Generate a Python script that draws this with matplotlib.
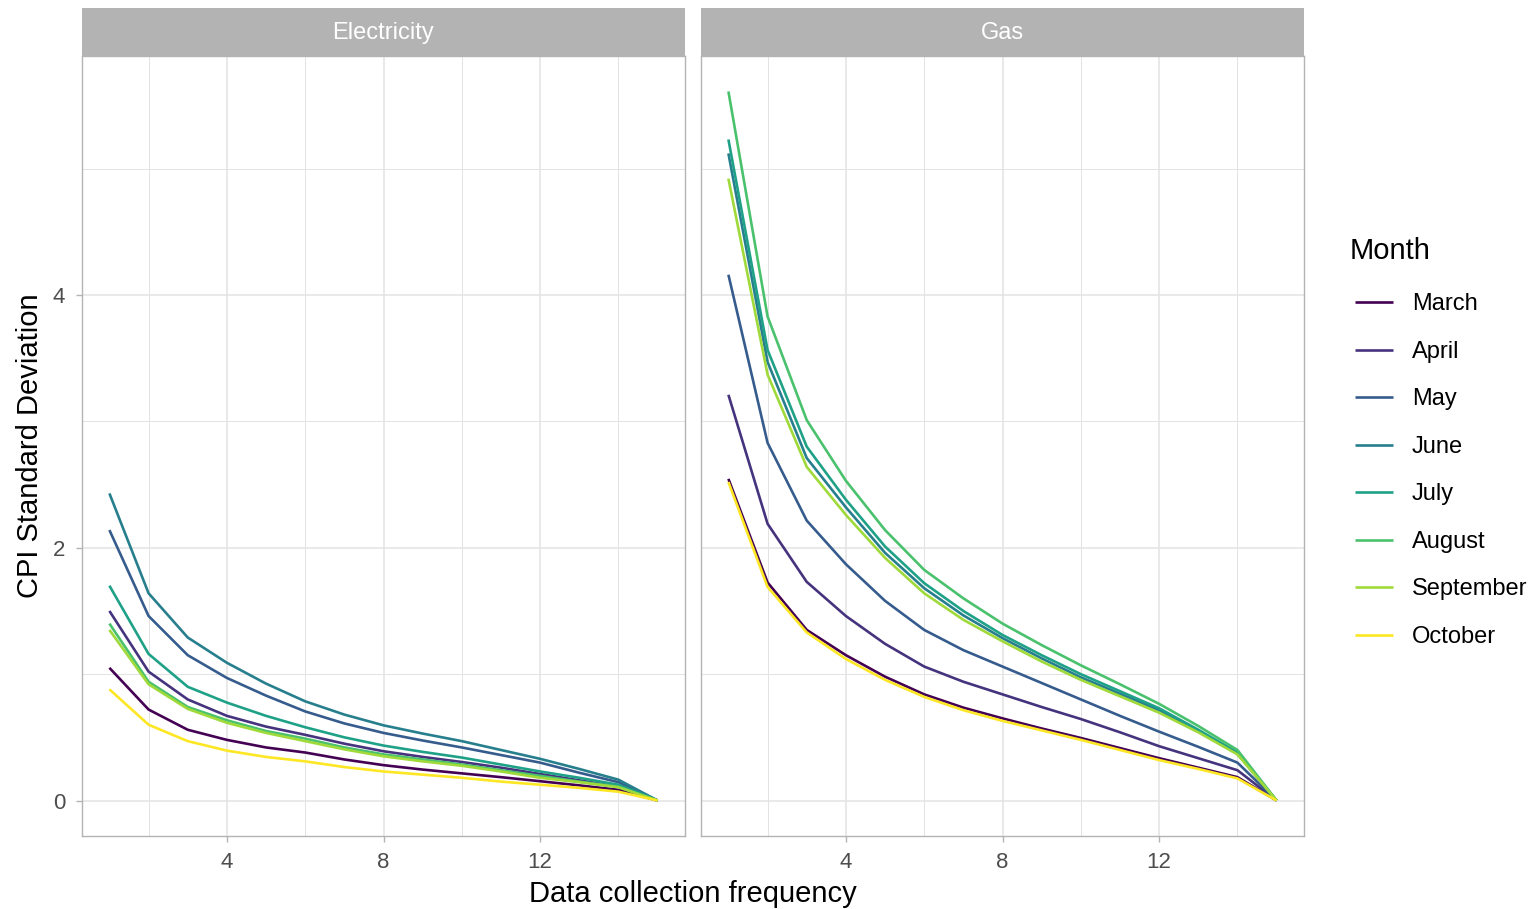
import matplotlib
matplotlib.use("Agg")
import matplotlib.pyplot as plt

plt.rcParams["font.family"] = ["Liberation Sans", "DejaVu Sans"]

# データ
freq = list(range(1, 16))
months = ["March", "April", "May", "June", "July", "August", "September", "October"]
colors = ["#440154", "#46337E", "#365C8D", "#277F8E", "#1FA187", "#4AC16D", "#9FDA3A", "#FDE725"]

elec_march = [1.05, 0.72, 0.56, 0.48, 0.42, 0.38, 0.325, 0.28, 0.245, 0.215, 0.185, 0.153, 0.12, 0.085, 0.0]
elec_april = [1.50, 1.02, 0.80, 0.67, 0.585, 0.52, 0.45, 0.39, 0.345, 0.305, 0.26, 0.21, 0.16, 0.11, 0.0]
elec_may = [2.14, 1.46, 1.15, 0.97, 0.83, 0.705, 0.61, 0.535, 0.475, 0.42, 0.36, 0.30, 0.22, 0.145, 0.0]
elec_june = [2.43, 1.64, 1.29, 1.09, 0.925, 0.785, 0.68, 0.595, 0.53, 0.47, 0.40, 0.33, 0.25, 0.165, 0.0]
elec_july = [1.70, 1.16, 0.90, 0.775, 0.67, 0.58, 0.50, 0.435, 0.385, 0.34, 0.285, 0.23, 0.18, 0.125, 0.0]
elec_august = [1.40, 0.94, 0.74, 0.635, 0.55, 0.49, 0.42, 0.365, 0.325, 0.285, 0.24, 0.195, 0.15, 0.11, 0.0]
elec_september = [1.35, 0.92, 0.725, 0.615, 0.535, 0.47, 0.405, 0.35, 0.31, 0.275, 0.23, 0.18, 0.145, 0.105, 0.0]
elec_october = [0.88, 0.60, 0.47, 0.395, 0.345, 0.31, 0.265, 0.23, 0.205, 0.18, 0.15, 0.125, 0.10, 0.07, 0.0]

gas_march = [2.545, 1.725, 1.35, 1.15, 0.98, 0.84, 0.735, 0.65, 0.57, 0.495, 0.415, 0.335, 0.26, 0.185, 0.0]
gas_april = [3.21, 2.19, 1.73, 1.46, 1.24, 1.06, 0.94, 0.84, 0.74, 0.645, 0.54, 0.43, 0.335, 0.24, 0.0]
gas_may = [4.16, 2.83, 2.215, 1.87, 1.58, 1.35, 1.19, 1.06, 0.93, 0.80, 0.67, 0.545, 0.425, 0.30, 0.0]
gas_june = [5.12, 3.47, 2.71, 2.32, 1.96, 1.68, 1.465, 1.285, 1.125, 0.975, 0.845, 0.715, 0.55, 0.37, 0.0]
gas_july = [5.23, 3.565, 2.80, 2.38, 2.01, 1.72, 1.50, 1.31, 1.15, 1.00, 0.865, 0.73, 0.56, 0.38, 0.0]
gas_august = [5.61, 3.83, 3.01, 2.53, 2.14, 1.825, 1.60, 1.40, 1.23, 1.07, 0.92, 0.765, 0.59, 0.40, 0.0]
gas_september = [4.92, 3.37, 2.64, 2.26, 1.92, 1.64, 1.43, 1.26, 1.10, 0.955, 0.825, 0.695, 0.54, 0.365, 0.0]
gas_october = [2.52, 1.69, 1.33, 1.12, 0.955, 0.82, 0.715, 0.63, 0.555, 0.48, 0.40, 0.32, 0.25, 0.175, 0.0]

elec = [elec_march, elec_april, elec_may, elec_june, elec_july, elec_august, elec_september, elec_october]
gas = [gas_march, gas_april, gas_may, gas_june, gas_july, gas_august, gas_september, gas_october]

W, H = 1532, 909
fig = plt.figure(figsize=(W / 100, H / 100), dpi=100)

def px(l, t, r, b):
    return [l / W, 1 - b / H, (r - l) / W, (b - t) / H]

grid_col = "#E3E3E3"
border_col = "#B3B3B3"

axes = []
for name, left, series in [("Electricity", 82, elec), ("Gas", 701, gas)]:
    ax = fig.add_axes(px(left, 56, left + 603, 836))
    for vals, c, m in zip(series, colors, months):
        ax.plot(freq, vals, color=c, lw=1.9, label=m, solid_capstyle="butt")
    ax.set_xlim(0.3, 15.7)
    ax.set_ylim(-0.2805, 5.8905)
    ax.set_xticks([4, 8, 12])
    ax.set_xticks([2, 6, 10, 14], minor=True)
    ax.set_yticks([0, 2, 4])
    ax.set_yticks([1, 3, 5], minor=True)
    ax.grid(True, which="major", color=grid_col, lw=1.1)
    ax.grid(True, which="minor", color=grid_col, lw=0.7)
    ax.set_axisbelow(True)
    for s in ax.spines.values():
        s.set_color(border_col)
        s.set_linewidth(1.0)
    ax.tick_params(which="major", color=border_col, length=4, width=1.0,
                   labelsize=16, labelcolor="#4D4D4D")
    ax.tick_params(axis="x", which="major", pad=7.5)
    ax.tick_params(axis="y", which="major", pad=8)
    ax.tick_params(which="minor", length=0)
    if name == "Gas":
        ax.tick_params(axis="y", which="major", length=0, labelleft=False)
    # ストリップ
    sax = fig.add_axes(px(left, 8, left + 603, 56))
    sax.set_facecolor(border_col)
    sax.set_xticks([])
    sax.set_yticks([])
    for s in sax.spines.values():
        s.set_visible(False)
    sax.text(0.5, 0.47, name, color="white", fontsize=17, ha="center", va="center",
             transform=sax.transAxes)
    axes.append(ax)

fig.text(693 / W, 1 - 894 / H, "Data collection frequency", fontsize=21, ha="center", va="center")
fig.text(30 / W, 1 - 446 / H, "CPI Standard Deviation", fontsize=21, ha="center", va="center",
         rotation=90)

# 凡例
fig.text(1350 / W, 1 - 251 / H, "Month", fontsize=21, ha="left", va="center")
handles, labels = axes[0].get_legend_handles_labels()
fig.legend(handles, labels, loc="upper left",
           bbox_to_anchor=(1346 / W, 1 - 284 / H), frameon=False,
           fontsize=17, handlelength=1.6, handletextpad=0.8,
           labelspacing=1.08, borderaxespad=0)

fig.savefig("out.png", dpi=100)
